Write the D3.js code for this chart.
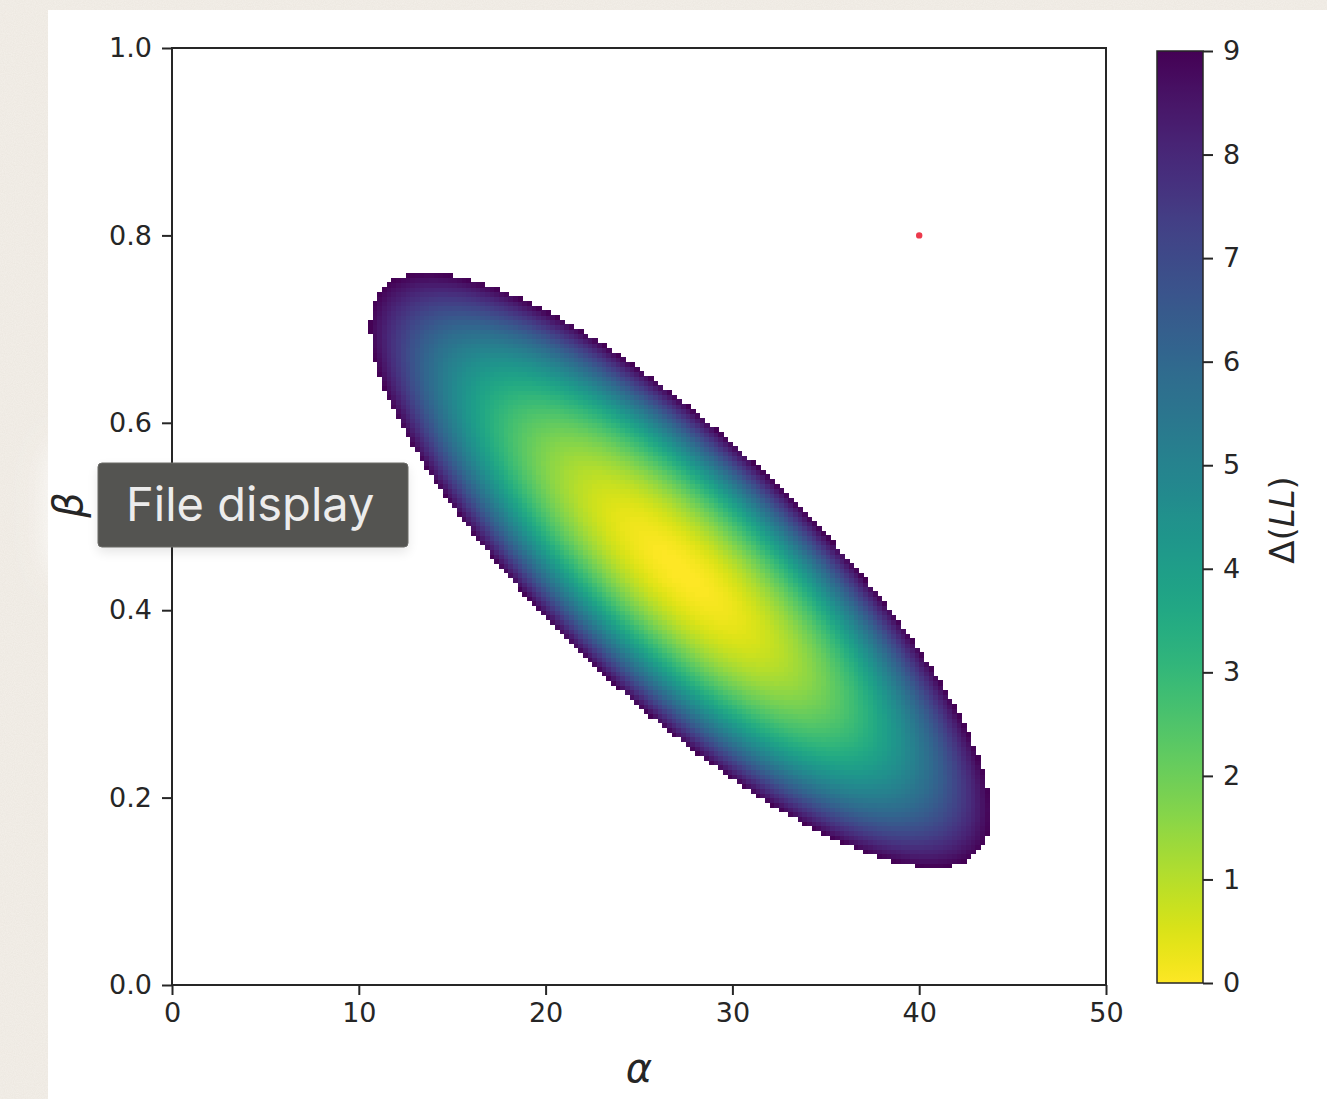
<!DOCTYPE html>
<html>
<head>
<meta charset="utf-8">
<script src="https://cdn.jsdelivr.net/npm/d3@7"></script>
<style>
  html, body { margin: 0; padding: 0; background: #f2eee7; }
  svg { display: block; }
</style>
</head>
<body>
<svg id="chart" width="1327" height="1099"></svg>
<script>
// Axis ranges and tick labels
const alphaDomain = [0, 50];
const betaDomain = [0, 1];
const alphaTicks = [0, 10, 20, 30, 40, 50];
const betaTicks = [0.0, 0.2, 0.4, 0.6, 0.8, 1.0];
const colorTicks = [0, 1, 2, 3, 4, 5, 6, 7, 8, 9];
const deltaMax = 9;

// Likelihood surface: best fit, standard errors and correlation of (alpha, beta)
const bestFit = [27.2, 0.443];
const stdErr = [5.53, 0.1057];
const correlation = [-0.82];
// Evaluation grid (cells per axis)
const gridSize = [200, 200];

// Reference parameter point
const truePoint = [40, 0.8];

const svg = d3.select("#chart");
const W = 1327, H = 1099;

// paper background with a fine grain
const defs = svg.append("defs");
const grain = defs.append("filter").attr("id", "grain").attr("x", 0).attr("y", 0).attr("width", "100%").attr("height", "100%");
grain.append("feTurbulence").attr("type", "fractalNoise").attr("baseFrequency", 0.9).attr("numOctaves", 2).attr("seed", 3).attr("result", "n");
grain.append("feColorMatrix").attr("type", "matrix")
  .attr("values", "0 0 0 0 0.55  0 0 0 0 0.50  0 0 0 0 0.42  0 0 0 0.18 0");
svg.append("rect").attr("width", W).attr("height", H).attr("fill", "#f4f0ea");
svg.append("rect").attr("width", W).attr("height", H).attr("filter", "url(#grain)");

// figure canvas
svg.append("rect").attr("x", 48).attr("y", 10).attr("width", W - 48).attr("height", H - 10).attr("fill", "#ffffff");

// soft halo around the tooltip (behind the chart)
const glow = defs.append("filter").attr("id", "glow").attr("x", "-50%").attr("y", "-100%").attr("width", "200%").attr("height", "300%");
glow.append("feGaussianBlur").attr("stdDeviation", 16);
svg.append("rect").attr("x", 50).attr("y", 440).attr("width", 360).attr("height", 140).attr("rx", 30)
  .attr("fill", "#ffffff").attr("opacity", 0.95).attr("filter", "url(#glow)");

const x = d3.scaleLinear().domain(alphaDomain).range([172, 1106]);
const y = d3.scaleLinear().domain(betaDomain).range([985, 48]);
const color = t => d3.interpolateViridis(1 - t / deltaMax);

// quadratic log-likelihood difference
function deltaLL(a, b) {
  const z1 = (a - bestFit[0]) / stdErr[0];
  const z2 = (b - bestFit[1]) / stdErr[1];
  const r = correlation[0];
  return (z1 * z1 - 2 * r * z1 * z2 + z2 * z2) / (1 - r * r);
}

const da = (alphaDomain[1] - alphaDomain[0]) / gridSize[0];
const db = (betaDomain[1] - betaDomain[0]) / gridSize[1];
const cells = [];
for (let i = 0; i < gridSize[0]; i++) {
  for (let j = 0; j < gridSize[1]; j++) {
    const a0 = alphaDomain[0] + i * da, b0 = betaDomain[0] + j * db;
    const v = deltaLL(a0 + da / 2, b0 + db / 2);
    if (v <= deltaMax) cells.push({ a0, b0, v });
  }
}

const heat = svg.append("g").attr("shape-rendering", "crispEdges");
heat.selectAll("rect").data(cells).join("rect")
  .attr("x", d => x(d.a0))
  .attr("y", d => y(d.b0 + db))
  .attr("width", d => x(d.a0 + da) - x(d.a0) + 0.6)
  .attr("height", d => y(d.b0) - y(d.b0 + db) + 0.6)
  .attr("fill", d => color(d.v));

// true parameter marker
svg.append("circle").attr("cx", x(truePoint[0])).attr("cy", y(truePoint[1])).attr("r", 3.2).attr("fill", "#ec3a4c");

const tickFont = "'DejaVu Sans', sans-serif";
const ink = "#262626";

// axes
const xAxis = svg.append("g").attr("transform", `translate(0,${y(0)})`)
  .call(d3.axisBottom(x).tickValues(alphaTicks).tickFormat(d3.format("d")).tickSize(10).tickPadding(8));
const yAxis = svg.append("g").attr("transform", `translate(${x(0)},0)`)
  .call(d3.axisLeft(y).tickValues(betaTicks).tickFormat(d3.format(".1f")).tickSize(10).tickPadding(10));
[xAxis, yAxis].forEach(g => {
  g.select(".domain").remove();
  g.selectAll(".tick line").attr("stroke", ink).attr("stroke-width", 2);
  g.selectAll(".tick text").attr("fill", ink).style("font-family", tickFont).style("font-size", "27px");
});

// plot frame
svg.append("rect").attr("x", x(0)).attr("y", y(1)).attr("width", x(50) - x(0)).attr("height", y(0) - y(1))
  .attr("fill", "none").attr("stroke", ink).attr("stroke-width", 2);

// axis titles
svg.append("text").attr("x", (x(0) + x(50)) / 2).attr("y", 1082).attr("text-anchor", "middle")
  .style("font-family", tickFont).style("font-style", "italic").style("font-size", "40px").attr("fill", ink).text("α");
svg.append("text").attr("transform", "translate(82,505) rotate(-90)").attr("text-anchor", "middle")
  .style("font-family", tickFont).style("font-style", "italic").style("font-size", "40px").attr("fill", ink).text("β");

// colorbar
const cb = { x: 1157, w: 46 };
const cy = d3.scaleLinear().domain([0, deltaMax]).range([983, 51]);
const grad = defs.append("linearGradient").attr("id", "cbgrad").attr("x1", 0).attr("y1", 1).attr("x2", 0).attr("y2", 0);
d3.range(0, 1.0001, 0.02).forEach(t => grad.append("stop").attr("offset", t).attr("stop-color", color(t * deltaMax)));
svg.append("rect").attr("x", cb.x).attr("y", cy(deltaMax)).attr("width", cb.w).attr("height", cy(0) - cy(deltaMax))
  .attr("fill", "url(#cbgrad)").attr("stroke", ink).attr("stroke-width", 1.5);
const cAxis = svg.append("g").attr("transform", `translate(${cb.x + cb.w},0)`)
  .call(d3.axisRight(cy).tickValues(colorTicks).tickFormat(d3.format("d")).tickSize(10).tickPadding(10));
cAxis.select(".domain").remove();
cAxis.selectAll(".tick line").attr("stroke", ink).attr("stroke-width", 2);
cAxis.selectAll(".tick text").attr("fill", ink).style("font-family", tickFont).style("font-size", "27px");

const cLabel = svg.append("text").attr("transform", "translate(1294,520) rotate(-90)").attr("text-anchor", "middle")
  .style("font-family", tickFont).style("font-size", "34px").attr("fill", ink);
cLabel.append("tspan").text("Δ(");
cLabel.append("tspan").style("font-style", "italic").text("LL");
cLabel.append("tspan").text(")");

// hover tooltip
const shadow = defs.append("filter").attr("id", "shadow").attr("x", "-20%").attr("y", "-50%").attr("width", "140%").attr("height", "200%");
shadow.append("feGaussianBlur").attr("stdDeviation", 6);
const tip = svg.append("g");
tip.append("rect").attr("x", 98).attr("y", 468).attr("width", 310).attr("height", 84).attr("rx", 4)
  .attr("fill", "#000").attr("opacity", 0.1).attr("filter", "url(#shadow)");
tip.append("rect").attr("x", 98).attr("y", 463).attr("width", 310).attr("height", 84).attr("rx", 4)
  .attr("fill", "#545451").attr("stroke", "#6a6a67").attr("stroke-width", 1);
tip.append("text").attr("x", 126).attr("y", 521).attr("fill", "#ececec")
  .style("font-family", "Inter, 'Open Sans', sans-serif").style("font-size", "47px").text("File display");
</script>
</body>
</html>
